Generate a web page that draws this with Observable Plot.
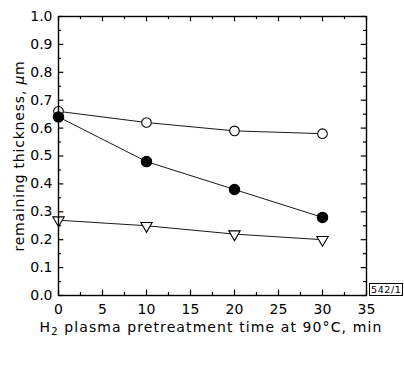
<!DOCTYPE html>
<html><head><meta charset="utf-8">
<script src="https://cdn.jsdelivr.net/npm/d3@7"></script>
<script src="https://cdn.jsdelivr.net/npm/@observablehq/plot@0.6"></script>
<style>
body{margin:0;background:#fff;}
#chart{position:relative;width:404px;height:365px;}
#tag{position:absolute;left:369px;top:283px;font:9.5px "DejaVu Sans",sans-serif;border:1px solid #000;padding:0 1px;line-height:11px;color:#000;letter-spacing:0.6px;}
</style></head><body><div id="chart"><span id="tag">542/1</span></div>
<script>
const times = [0, 10, 20, 30];
const openCircle = [0.66, 0.62, 0.59, 0.58];
const filledCircle = [0.64, 0.48, 0.38, 0.28];
const triangleDown = [0.27, 0.25, 0.22, 0.20];
const xTickLabels = [0, 5, 10, 15, 20, 25, 30, 35];
const yTickLabels = [0, 0.1, 0.2, 0.3, 0.4, 0.5, 0.6, 0.7, 0.8, 0.9, 1.0];
const xMinor = [2.5, 7.5, 12.5, 17.5, 22.5, 27.5, 32.5];
const yMinor = [0.05, 0.15, 0.25, 0.35, 0.45, 0.55, 0.65, 0.75, 0.85, 0.95];

const rows = times.map((t, i) => ({t, open: openCircle[i], filled: filledCircle[i], tri: triangleDown[i]}));

const line = (key) => Plot.line(rows, {x: "t", y: key, stroke: "black", strokeWidth: 0.9});

const plot = Plot.plot({
  width: 404, height: 365,
  marginLeft: 58, marginRight: 38, marginTop: 16, marginBottom: 70,
  style: {fontFamily: "DejaVu Sans, sans-serif", fontSize: "14px", color: "black", background: "white"},
  x: {domain: [0, 35]},
  y: {domain: [0, 1]},
  marks: [
    // inward ticks, all four sides
    Plot.ruleX(xTickLabels, {x: d => d, y1: 0, y2: 0.019, stroke: "black", strokeWidth: 1.2}),
    Plot.ruleX(xTickLabels, {x: d => d, y1: 1, y2: 0.981, stroke: "black", strokeWidth: 1.2}),
    Plot.ruleX(xMinor, {x: d => d, y1: 0, y2: 0.011, stroke: "black", strokeWidth: 1.2}),
    Plot.ruleX(xMinor, {x: d => d, y1: 1, y2: 0.989, stroke: "black", strokeWidth: 1.2}),
    Plot.ruleY(yTickLabels, {y: d => d, x1: 0, x2: 0.6, stroke: "black", strokeWidth: 1.2}),
    Plot.ruleY(yTickLabels, {y: d => d, x1: 35, x2: 34.4, stroke: "black", strokeWidth: 1.2}),
    Plot.ruleY(yMinor, {y: d => d, x1: 0, x2: 0.35, stroke: "black", strokeWidth: 1.2}),
    Plot.ruleY(yMinor, {y: d => d, x1: 35, x2: 34.65, stroke: "black", strokeWidth: 1.2}),
    Plot.axisX({ticks: xTickLabels, tickSize: 0, tickPadding: 9, tickFormat: d => String(d), label: null, fontSize: 14}),
    Plot.axisY({ticks: yTickLabels, tickSize: 0, tickPadding: 6, tickFormat: d3.format(".1f"), label: null, fontSize: 14}),
    line("open"), line("filled"), line("tri"),
    Plot.dot(rows, {x: "t", y: "open", r: 4.8, stroke: "black", fill: "white", strokeWidth: 1.1}),
    Plot.dot(rows, {x: "t", y: "filled", r: 5, stroke: "black", fill: "black"}),
    Plot.dot(rows, {x: "t", y: "tri", symbol: "triangle", rotate: 180, r: 4.2, stroke: "black", fill: "white", strokeWidth: 1.1}),
    Plot.frame({stroke: "black", strokeWidth: 1.4})
  ]
});

document.getElementById("chart").prepend(plot);

const svg = d3.select(plot);
const font = (sel) => sel.attr("fill", "black").style("font-size", "14px")
  .style("font-family", "DejaVu Sans, sans-serif").style("letter-spacing", "1.1px")
  .attr("text-anchor", "middle").attr("dominant-baseline", "central");

// x-axis title with subscript 2
const xt = svg.append("text").attr("x", 211).attr("y", 327).call(font);
xt.append("tspan").text("H");
xt.append("tspan").attr("dy", 4).style("font-size", "10px").text("2");
xt.append("tspan").attr("dy", -4).text(" plasma pretreatment time at 90°C, min");

// y-axis title with italic mu
const yt = svg.append("text").attr("transform", "translate(19,156) rotate(-90)").call(font)
  .style("letter-spacing", "0.8px");
yt.append("tspan").text("remaining thickness, ");
yt.append("tspan").style("font-style", "italic").text("\u03bc");
yt.append("tspan").text("m");
</script></body></html>
